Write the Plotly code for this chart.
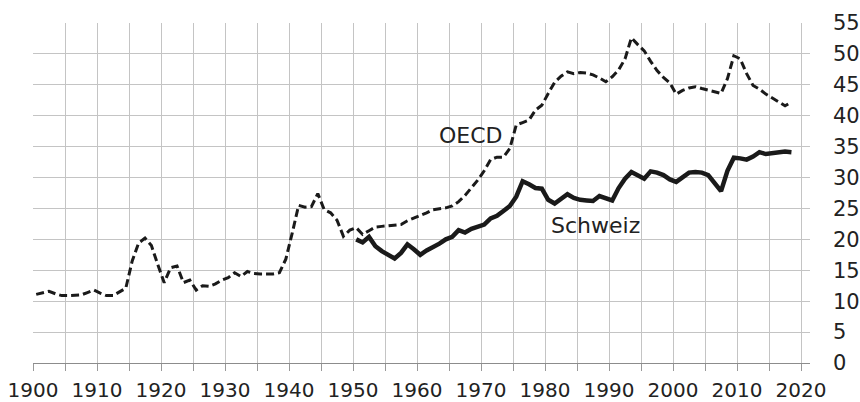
import plotly.graph_objects as go

oecd_years = list(range(1900, 2019))
oecd_values = [
    11.1, 11.4, 11.6, 11.2, 10.9, 10.9, 10.9, 11.0, 11.4, 11.8,   # 1900-1909
    11.3, 10.9, 10.9, 11.5, 12.1, 16.5, 19.4, 20.2, 19.0, 15.9,   # 1910-1919
    13.0, 15.4, 15.7, 13.0, 13.4, 11.8, 12.5, 12.4, 12.8, 13.4,   # 1920-1929
    13.8, 14.6, 14.0, 14.8, 14.5, 14.4, 14.4, 14.4, 14.6, 16.8,   # 1930-1939
    21.0, 25.5, 25.2, 25.3, 27.4, 24.8, 24.3, 23.1, 20.5, 21.5,   # 1940-1949
    21.9, 20.8, 21.4, 22.0, 22.1, 22.2, 22.4, 22.4, 23.0, 23.4,   # 1950-1959
    23.8, 24.3, 24.8, 24.9, 25.1, 25.4, 26.1, 27.1, 28.3, 29.6,   # 1960-1969
    31.1, 32.9, 33.3, 33.3, 34.7, 38.5, 38.9, 39.3, 40.9, 41.7,   # 1970-1979
    43.6, 45.4, 46.4, 47.1, 46.8, 47.0, 46.9, 46.6, 46.1, 45.5,   # 1980-1989
    46.3, 47.4, 49.2, 52.6, 51.5, 50.5, 48.8, 47.3, 46.2, 45.3,   # 1990-1999
    43.5, 44.1, 44.5, 44.7, 44.4, 44.1, 43.8, 43.6, 46.0, 49.7,   # 2000-2009
    49.2, 46.8, 44.9, 44.3, 43.5, 42.9, 42.3, 41.6, 42.2,         # 2010-2018
]

ch_years = list(range(1950, 2019))
ch_values = [
    20.0, 19.5, 20.4, 18.9, 18.1, 17.5, 16.9, 17.8, 19.2, 18.4,   # 1950-1959
    17.5, 18.2, 18.7, 19.3, 20.0, 20.4, 21.5, 21.1, 21.7, 22.1,   # 1960-1969
    22.4, 23.4, 23.8, 24.6, 25.4, 26.9, 29.4, 28.9, 28.3, 28.2,   # 1970-1979
    26.4, 25.8, 26.6, 27.3, 26.7, 26.4, 26.3, 26.2, 27.0, 26.6,   # 1980-1989
    26.3, 28.3, 29.8, 30.9, 30.3, 29.8, 31.0, 30.8, 30.4, 29.7,   # 1990-1999
    29.3, 30.1, 30.8, 30.9, 30.8, 30.4, 29.2, 27.8, 31.1, 33.2,   # 2000-2009
    33.1, 32.9, 33.4, 34.1, 33.8, 33.9, 34.1, 34.2, 34.1,         # 2010-2018
]

x_tick_values = list(range(1900, 2021, 10))
x_tick_labels = [str(v) for v in x_tick_values]
y_tick_values = list(range(0, 56, 5))

# points are drawn in the middle of each year
mid = 0.5

fig = go.Figure()
fig.add_trace(go.Scatter(
    x=[y + mid for y in oecd_years], y=oecd_values, mode="lines",
    line=dict(color="#1a1a1a", width=3, dash="8px,4px"),
    name="OECD", showlegend=False, hoverinfo="skip"))
fig.add_trace(go.Scatter(
    x=[y + mid for y in ch_years], y=ch_values, mode="lines",
    line=dict(color="#1a1a1a", width=4.5),
    name="Schweiz", showlegend=False, hoverinfo="skip"))

fig.add_annotation(x=1968.4, y=36.8, text="OECD", showarrow=False,
                   font=dict(size=22, color="#222"), xanchor="center", yanchor="middle")
fig.add_annotation(x=1987.9, y=22.2, text="Schweiz", showarrow=False,
                   font=dict(size=22, color="#222"), xanchor="center", yanchor="middle")

font_family = "DejaVu Sans, Verdana, sans-serif"
fig.update_layout(
    width=860, height=402,
    margin=dict(l=33, r=50, t=23, b=39, autoexpand=False),
    paper_bgcolor="white", plot_bgcolor="white",
    font=dict(family=font_family, size=21, color="#222"),
    xaxis=dict(
        range=[1900, 2021.4], automargin=False,
        tickmode="array", tickvals=x_tick_values, ticktext=x_tick_labels,
        showgrid=True, gridcolor="#c4c4c4", gridwidth=1,
        ticks="outside", ticklen=7, tickcolor="#999", tickwidth=1,
        ticklabelstandoff=2, ticklabeloverflow="allow",
        showline=True, linecolor="#8c8c8c", linewidth=1,
        minor=dict(dtick=5, tick0=1900, showgrid=True, gridcolor="#c4c4c4",
                   ticks="outside", ticklen=7, tickcolor="#999"),
        tickfont=dict(size=20),
        zeroline=False, fixedrange=True,
    ),
    yaxis=dict(
        range=[0, 55], side="right", automargin=False,
        tickmode="array", tickvals=y_tick_values,
        showgrid=True, gridcolor="#c4c4c4", gridwidth=1,
        ticks="", ticklabelstandoff=22, ticklabeloverflow="allow",
        showline=False, zeroline=False,
        tickfont=dict(size=21), fixedrange=True,
    ),
)

# remove the browser's default 8px page margin so the figure fills the window
fig.write_html(
    "out.html",
    config={"displayModeBar": False, "staticPlot": True},
    post_script="document.body.style.margin='0';document.body.style.overflow='hidden';",
)
